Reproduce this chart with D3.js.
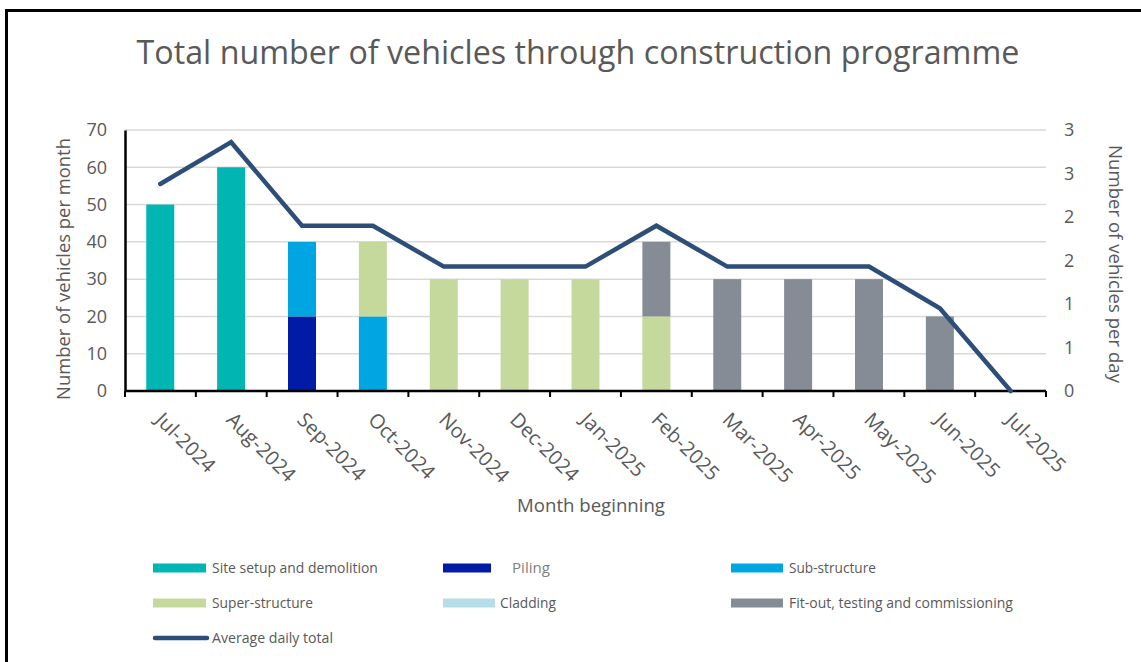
<!DOCTYPE html>
<html>
<head>
<meta charset="utf-8">
<script src="https://cdn.jsdelivr.net/npm/d3@7"></script>
<style>
  body { margin: 0; background: #fff; }
  text { font-family: "Open Sans", sans-serif; fill: #595959; }
</style>
</head>
<body>
<svg id="chart" width="1141" height="662"></svg>
<script>
// months on the x axis
var months = ['Jul-2024','Aug-2024','Sep-2024','Oct-2024','Nov-2024','Dec-2024','Jan-2025',
    'Feb-2025','Mar-2025','Apr-2025','May-2025','Jun-2025','Jul-2025'];

// vehicles per month by stage
var siteSetup      = [50,60, 0, 0, 0, 0, 0, 0, 0, 0, 0, 0,0];
var piling         = [ 0, 0,20, 0, 0, 0, 0, 0, 0, 0, 0, 0,0];
var subStructure   = [ 0, 0,20,20, 0, 0, 0, 0, 0, 0, 0, 0,0];
var superStructure = [ 0, 0, 0,20,30,30,30,20, 0, 0, 0, 0,0];
var cladding       = [ 0, 0, 0, 0, 0, 0, 0, 0, 0, 0, 0, 0,0];
var fitOut         = [ 0, 0, 0, 0, 0, 0, 0,20,30,30,30,20,0];

// average vehicles per day (right axis)
var dailyAvg = [2.38,2.86,1.90,1.90,1.43,1.43,1.43,1.90,1.43,1.43,1.43,0.95,0];

var stageNames  = ['Site setup and demolition','Piling','Sub-structure','Super-structure','Cladding','Fit-out, testing and commissioning'];
var stageColors = ['#00b5b2','#001ca6','#00a6e2','#c5d99d','#b6dee8','#858c95'];
var lineName = 'Average daily total';

var leftTicks  = [0,10,20,30,40,50,60,70];
var rightTicks = [0,0.5,1,1.5,2,2.5,3];

var stageData = [siteSetup, piling, subStructure, superStructure, cladding, fitOut];
var table = months.map(function(m, i){
    var row = {month: m};
    stageNames.forEach(function(s, k){ row[s] = stageData[k][i]; });
    return row;
});

var svg = d3.select('#chart');

// outer frame
svg.append('rect')
    .attr('x', 6.5).attr('y', 10.5)
    .attr('width', 1300).attr('height', 800)
    .style('fill', 'none').style('stroke', '#000').style('stroke-width', 3);

var plotL = 125, plotR = 1046, plotT = 130, plotB = 391;

var x = d3.scaleBand().domain(months).range([plotL, plotR]).paddingInner(0.605).paddingOuter(0.3);
var y = d3.scaleLinear().domain([0, 70]).range([plotB, plotT]);
var y2 = d3.scaleLinear().domain([0, 3]).range([plotB, plotT]);

// fit text to a width
function fit(sel, w){
    var n = sel.node();
    var fs = parseFloat(sel.attr('font-size'));
    var len = n.getComputedTextLength();
    sel.attr('font-size', (fs * w / len).toFixed(2));
}

// title
svg.append('text')
    .attr('x', 578).attr('y', 64)
    .attr('text-anchor', 'middle')
    .attr('font-size', 31)
    .text('Total number of vehicles through construction programme')
    .call(fit, 883);

// gridlines
svg.append('g').selectAll('line')
    .data(leftTicks.slice(1))
    .enter().append('line')
    .attr('x1', plotL).attr('x2', plotR)
    .attr('y1', function(d){ return y(d); })
    .attr('y2', function(d){ return y(d); })
    .style('stroke', '#d9d9d9').style('stroke-width', 1.5);

// stacked bars
var series = d3.stack().keys(stageNames)(table);
svg.append('g').selectAll('g')
    .data(series)
    .enter().append('g')
    .style('fill', function(d, i){ return stageColors[i]; })
    .selectAll('rect')
    .data(function(d){ return d.filter(function(p){ return p[1] - p[0] > 0; }); })
    .enter().append('rect')
    .attr('x', function(d){ return x(d.data.month); })
    .attr('width', x.bandwidth())
    .attr('y', function(d){ return y(d[1]); })
    .attr('height', function(d){ return y(d[0]) - y(d[1]); });

// left axis
var gl = svg.append('g').attr('transform', 'translate(' + plotL + ',0)')
    .call(d3.axisLeft(y).tickValues(leftTicks).tickSize(0).tickPadding(18));
gl.select('.domain').style('stroke', '#000').style('stroke-width', 2.5);
gl.selectAll('text').attr('font-size', 18).style('font-family', '"Open Sans", sans-serif').style('fill', '#595959');

// right axis labels
var gr = svg.append('g').attr('transform', 'translate(' + plotR + ',0)')
    .call(d3.axisRight(y2).tickValues(rightTicks).tickFormat(d3.format('.0f')).tickSize(0).tickPadding(18));
gr.select('.domain').remove();
gr.selectAll('text').attr('font-size', 18).style('font-family', '"Open Sans", sans-serif').style('fill', '#595959');

// bottom axis
var bounds = d3.range(months.length + 1).map(function(i){ return plotL + i * (plotR - plotL) / months.length; });
svg.append('line')
    .attr('x1', plotL).attr('x2', plotR).attr('y1', plotB).attr('y2', plotB)
    .style('stroke', '#000').style('stroke-width', 2.5);
svg.append('g').selectAll('line')
    .data(bounds).enter().append('line')
    .attr('x1', function(d){ return d; }).attr('x2', function(d){ return d; })
    .attr('y1', plotB).attr('y2', plotB + 6)
    .style('stroke', '#000').style('stroke-width', 2);

svg.append('g').selectAll('text')
    .data(months).enter().append('text')
    .attr('transform', function(d){
        return 'translate(' + (x(d) + x.bandwidth() / 2 - 6) + ',' + 421 + ') rotate(45)';
    })
    .attr('font-size', 20)
    .text(function(d){ return d; });

// line
var line = d3.line()
    .x(function(d, i){ return x(months[i]) + x.bandwidth() / 2; })
    .y(function(d){ return y2(d); });
svg.append('path')
    .datum(dailyAvg)
    .attr('d', line)
    .style('fill', 'none')
    .style('stroke', '#2d4e78')
    .style('stroke-width', 4.5)
    .style('stroke-linecap', 'round');

// axis titles
svg.append('text')
    .attr('transform', 'translate(70,269) rotate(-90)')
    .attr('text-anchor', 'middle').attr('font-size', 18)
    .text('Number of vehicles per month')
    .call(fit, 262);
svg.append('text')
    .attr('transform', 'translate(1109,264) rotate(90)')
    .attr('text-anchor', 'middle').attr('font-size', 18)
    .text('Number of vehicles per day')
    .call(fit, 238);
svg.append('text')
    .attr('x', 591).attr('y', 512)
    .attr('text-anchor', 'middle').attr('font-size', 18)
    .text('Month beginning')
    .call(fit, 148);

// legend
var legendPos = [
    {sx: 153, sw: 53, tx: 212, y: 568, tw: 166},
    {sx: 443, sw: 48, tx: 512, y: 568, tw: 38},
    {sx: 731, sw: 52, tx: 789, y: 568, tw: 87},
    {sx: 153, sw: 53, tx: 212, y: 603, tw: 101},
    {sx: 443, sw: 52, tx: 500, y: 603, tw: 56},
    {sx: 731, sw: 52, tx: 789, y: 603, tw: 224}
];
var leg = svg.append('g');
stageNames.forEach(function(name, i){
    var p = legendPos[i];
    leg.append('rect')
        .attr('x', p.sx).attr('y', p.y - 4.5)
        .attr('width', p.sw).attr('height', 9)
        .style('fill', stageColors[i]);
    leg.append('text')
        .attr('x', p.tx).attr('y', p.y + 5)
        .attr('font-size', 14)
        .style('fill', name === 'Piling' ? '#808080' : '#595959')
        .text(name)
        .call(fit, p.tw);
});
leg.append('line')
    .attr('x1', 155).attr('x2', 207).attr('y1', 638).attr('y2', 638)
    .style('stroke', '#2d4e78').style('stroke-width', 4.5).style('stroke-linecap', 'round');
leg.append('text')
    .attr('x', 212).attr('y', 643)
    .attr('font-size', 14)
    .text(lineName)
    .call(fit, 121);
</script>
</body>
</html>
